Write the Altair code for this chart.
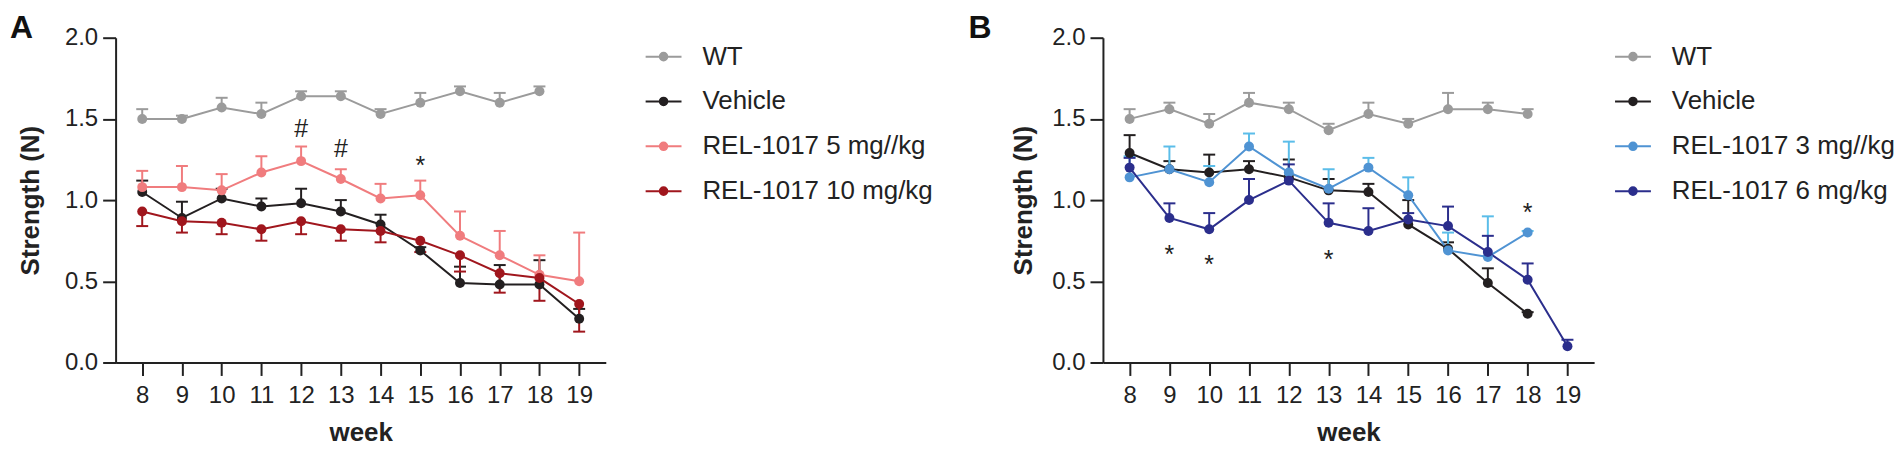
import altair as alt
import pandas as pd

FONT = "Liberation Sans"

# ---------------- data ----------------
weeks_full = [8, 9, 10, 11, 12, 13, 14, 15, 16, 17, 18, 19]
weeks_to18 = [8, 9, 10, 11, 12, 13, 14, 15, 16, 17, 18]

# Panel A
a_names = ["WT", "Vehicle", "REL-1017 5 mg//kg", "REL-1017 10 mg/kg"]
a_wt = [1.50, 1.50, 1.57, 1.53, 1.64, 1.64, 1.53, 1.60, 1.67, 1.60, 1.67]
a_wt_bar = [1.56, 1.52, 1.63, 1.60, 1.67, 1.67, 1.56, 1.66, 1.70, 1.66, 1.70]
a_veh = [1.05, 0.89, 1.01, 0.96, 0.98, 0.93, 0.85, 0.69, 0.49, 0.48, 0.48, 0.27]
a_veh_bar = [1.12, 0.99, 1.07, 1.01, 1.07, 1.00, 0.91, 0.71, 0.59, 0.60, 0.63, 0.33]
a_5 = [1.08, 1.08, 1.06, 1.17, 1.24, 1.13, 1.01, 1.03, 0.78, 0.66, 0.54, 0.50]
a_5_bar = [1.18, 1.21, 1.16, 1.27, 1.33, 1.19, 1.10, 1.12, 0.93, 0.81, 0.66, 0.80]
a_10 = [0.93, 0.87, 0.86, 0.82, 0.87, 0.82, 0.81, 0.75, 0.66, 0.55, 0.52, 0.36]
a_10_bar = [0.84, 0.80, 0.79, 0.75, 0.79, 0.75, 0.74, 0.68, 0.56, 0.43, 0.38, 0.19]
a_colors = ["#9b9b9b", "#231f20", "#f07c7e", "#a0161d"]
a_bar_colors = ["#9b9b9b", "#231f20", "#f07c7e", "#a0161d"]
a_annot_week = [12, 13, 15]
a_annot_value = [1.435, 1.313, 1.212]
a_annot_text = ["#", "#", "*"]

# Panel B
b_names = ["WT", "Vehicle", "REL-1017 3 mg//kg", "REL-1017 6 mg/kg"]
b_wt = [1.50, 1.56, 1.47, 1.60, 1.56, 1.43, 1.53, 1.47, 1.56, 1.56, 1.53]
b_wt_bar = [1.56, 1.60, 1.53, 1.66, 1.60, 1.47, 1.60, 1.50, 1.66, 1.60, 1.56]
b_veh = [1.29, 1.19, 1.17, 1.19, 1.14, 1.06, 1.05, 0.85, 0.70, 0.49, 0.30]
b_veh_bar = [1.40, 1.24, 1.28, 1.24, 1.25, 1.13, 1.10, 1.00, 0.74, 0.58, 0.31]
b_3 = [1.14, 1.19, 1.11, 1.33, 1.17, 1.07, 1.20, 1.03, 0.69, 0.65, 0.80]
b_3_bar = [1.27, 1.33, 1.21, 1.41, 1.36, 1.19, 1.26, 1.14, 0.80, 0.90, 0.81]
b_6 = [1.20, 0.89, 0.82, 1.00, 1.12, 0.86, 0.81, 0.88, 0.84, 0.68, 0.51, 0.10]
b_6_bar = [1.26, 0.98, 0.92, 1.13, 1.22, 0.98, 0.95, 0.92, 0.96, 0.78, 0.61, 0.14]
b_colors = ["#9b9b9b", "#231f20", "#4f93d3", "#2b2e8c"]
b_bar_colors = ["#9b9b9b", "#231f20", "#5bbde9", "#2b2e8c"]
b_annot_week = [9, 10, 13, 18]
b_annot_value = [0.662, 0.602, 0.632, 0.923]
b_annot_text = ["*", "*", "*", "*"]

LEGEND_SYMBOL = ("M-1,0L1,0M-0.21,0A0.21,0.21,0,1,1,0.21,0"
                 "A0.21,0.21,0,1,1,-0.21,0Z")


def build_panel(names, series, colors, bar_colors, ann_w, ann_v, ann_t,
                letter, letter_dx, y_title_pad, legend_offset, width):
    rows = []
    for name, (weeks, vals, bars) in zip(names, series):
        for w, v, b in zip(weeks, vals, bars):
            rows.append({"group": name, "week": w, "value": v, "bar": b})
    df = pd.DataFrame(rows)
    ann = pd.DataFrame({"week": ann_w, "value": ann_v, "label": ann_t})

    xscale = alt.Scale(domain=[7.33, 19.67], nice=False, zero=False)
    xaxis = alt.Axis(values=weeks_full, format="d", title="week",
                     labelPadding=8, titlePadding=12)
    yscale = alt.Scale(domain=[0, 2], nice=False)
    yaxis = alt.Axis(values=[0, 0.5, 1.0, 1.5, 2.0], format=".1f",
                     title="Strength (N)", labelPadding=5,
                     titlePadding=y_title_pad)

    x = alt.X("week:Q", scale=xscale, axis=xaxis)
    y = alt.Y("value:Q", scale=yscale, axis=yaxis)
    ybar = alt.Y("bar:Q", scale=yscale, axis=yaxis)

    color = alt.Color(
        "group:N",
        scale=alt.Scale(domain=names, range=colors),
        legend=alt.Legend(
            title=None, orient="right", offset=legend_offset, padding=0,
            symbolType=LEGEND_SYMBOL, symbolSize=1296, symbolStrokeWidth=2,
            labelFontSize=26, labelFont=FONT, labelColor="#222222",
            labelOffset=20, rowPadding=13, labelLimit=500,
        ),
    )

    base = alt.Chart(df)
    layers = []
    # error bars, one constant colour per series
    for name, bc in zip(names, bar_colors):
        sub = base.transform_filter(alt.datum.group == name)
        layers.append(sub.mark_rule(strokeWidth=2, color=bc).encode(
            x=x, y=y, y2="bar:Q"))
        layers.append(sub.mark_rule(strokeWidth=2, color=bc, xOffset=-6,
                                    x2Offset=6).encode(
            x=x, x2="week:Q", y=ybar))
    layers.append(base.mark_line(strokeWidth=2).encode(
        x=x, y=y, color=color, detail="group:N"))
    layers.append(base.mark_circle(size=100, opacity=1).encode(
        x=x, y=y, color=color))
    layers.append(alt.Chart(ann).mark_text(
        font=FONT, fontSize=25, color="#222222", baseline="middle"
    ).encode(x=x, y=y, text="label:N"))

    return alt.layer(*layers).properties(
        width=width, height=326,
        title=alt.TitleParams(letter, anchor="start", frame="group",
                              fontSize=32, fontWeight="bold", font=FONT,
                              color="#111111", dx=letter_dx, dy=19,
                              offset=0),
    )


panel_a = build_panel(
    a_names,
    [(weeks_to18, a_wt, a_wt_bar), (weeks_full, a_veh, a_veh_bar),
     (weeks_full, a_5, a_5_bar), (weeks_full, a_10, a_10_bar)],
    a_colors, a_bar_colors, a_annot_week, a_annot_value, a_annot_text,
    "A", -106, 21, 39, 492,
)
panel_b = build_panel(
    b_names,
    [(weeks_to18, b_wt, b_wt_bar), (weeks_to18, b_veh, b_veh_bar),
     (weeks_to18, b_3, b_3_bar), (weeks_full, b_6, b_6_bar)],
    b_colors, b_bar_colors, b_annot_week, b_annot_value, b_annot_text,
    "B", -135, 15, 20, 493,
)

chart = (
    alt.hconcat(panel_a, panel_b, spacing=35)
    .resolve_scale(color="independent", x="independent", y="independent")
    .properties(padding={"left": 2, "top": 3, "right": 0, "bottom": 0})
    .configure_view(stroke=None)
    .configure_axis(
        grid=False, domainColor="#222222", domainWidth=2,
        tickColor="#222222", tickWidth=2, tickSize=13,
        labelFont=FONT, labelFontSize=24, labelColor="#222222",
        titleFont=FONT, titleFontSize=26, titleFontWeight="bold",
        titleColor="#222222",
    )
)

chart.save("out.html", embed_options={"renderer": "svg", "actions": False})
